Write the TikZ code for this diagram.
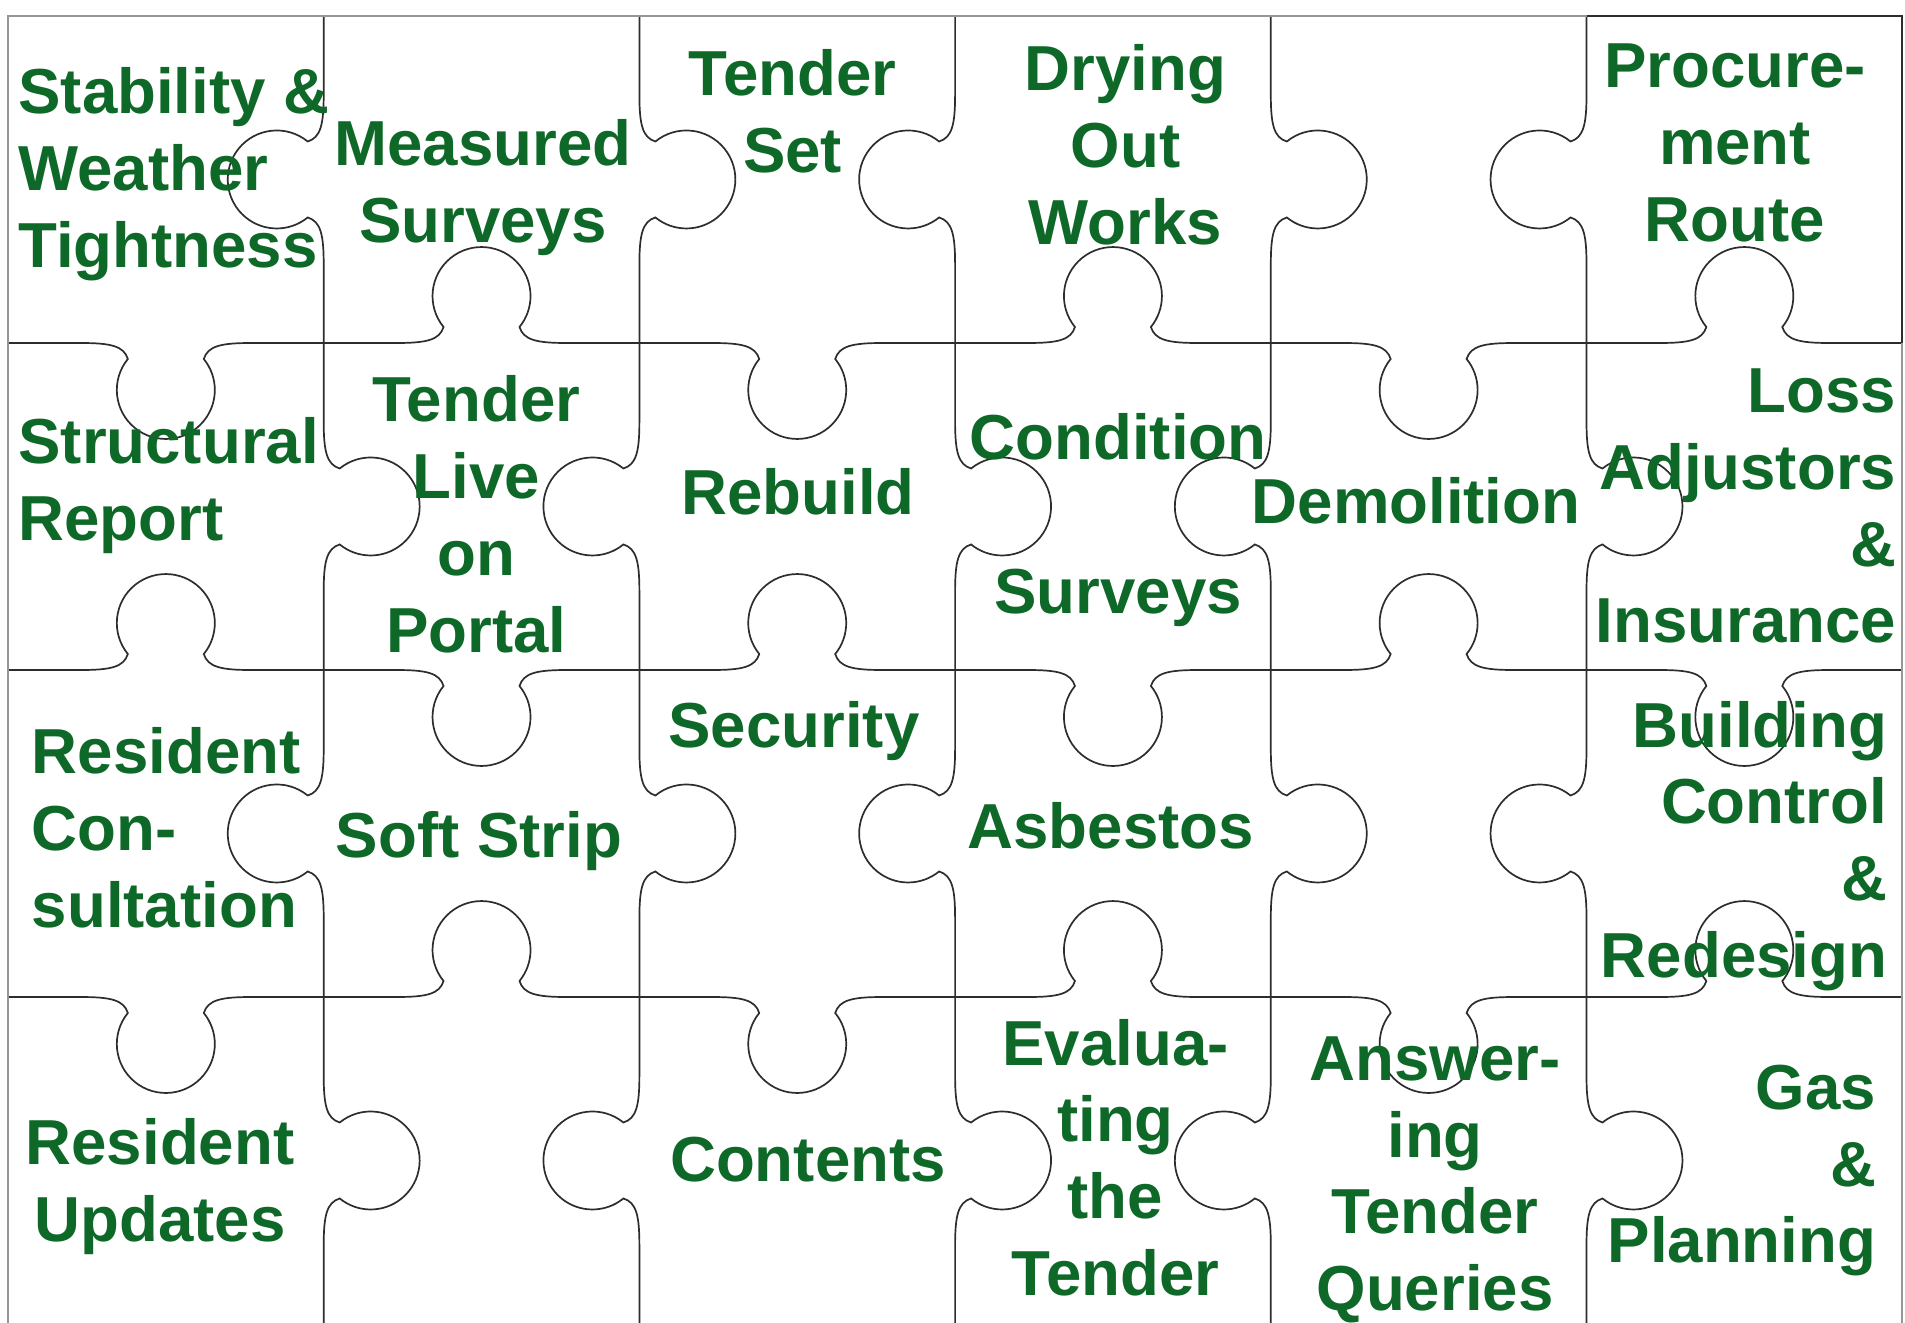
\documentclass[tikz,border=0pt]{standalone}
\usepackage{fontspec}
\setmainfont{Liberation Sans}
\definecolor{lblgreen}{RGB}{14,104,40}
\definecolor{edgecol}{RGB}{45,45,45}
\definecolor{bordergray}{RGB}{150,150,150}
\begin{document}
\begin{tikzpicture}[x=0.5pt,y=-0.5pt]
\tikzset{
  edge/.style={draw=edgecol, line width=0.85pt},
  lbl/.style={text=lblgreen, font=\fontsize{31.8}{38.35}\selectfont\bfseries, inner sep=0pt},
  lblc/.style={lbl, align=center, anchor=north},
  lbll/.style={lbl, align=left, anchor=north west},
  lblr/.style={lbl, align=right, anchor=north east}
}
\useasboundingbox (0,0) rectangle (1905,1322);
\fill[white] (0,0) rectangle (1905,1322);
\def\XO{8}\def\YO{16}\def\W{315.7}\def\H{327}
% horizontal edges
\foreach \e in {1,2,3}{
  \foreach \c in {0,...,5}{
    \pgfmathsetmacro\y{\YO+\e*\H}
    \pgfmathsetmacro\xa{\XO+\c*\W}
    \pgfmathsetmacro\xb{\xa+\W}
    \pgfmathsetmacro\m{\xa+\W/2}
    \pgfmathsetmacro\s{1-2*mod(\e+\c+1,2)}
    \draw[edge] (\xa,\y) -- ({\m-85},\y)
      .. controls ({\m-55},\y) and ({\m-42},{\y+3*\s}) .. ({\m-38},{\y+16*\s})
      arc[start angle={180+39.2*\s}, end angle={180-219.2*\s}, radius=49]
      .. controls ({\m+42},{\y+3*\s}) and ({\m+55},\y) .. ({\m+85},\y)
      -- (\xb,\y);
  }
}
% vertical edges
\foreach \e in {1,...,5}{
  \foreach \r in {0,...,3}{
    \pgfmathsetmacro\x{\XO+\e*\W}
    \pgfmathsetmacro\ya{\YO+\r*\H}
    \pgfmathsetmacro\yb{\ya+\H}
    \pgfmathsetmacro\m{\ya+\H/2}
    \pgfmathsetmacro\s{1-2*mod(\r+\e,2)}
    \draw[edge] (\x,\ya) -- (\x,{\m-85})
      .. controls (\x,{\m-55}) and ({\x+3*\s},{\m-42}) .. ({\x+16*\s},{\m-38})
      arc[start angle={-90-39.2*\s}, end angle={-90+219.2*\s}, radius=49]
      .. controls ({\x+3*\s},{\m+42}) and (\x,{\m+55}) .. (\x,{\m+85})
      -- (\x,\yb);
  }
}
% outer border
\draw[draw=bordergray, line width=0.9pt] (8,1324) -- (8,16) -- (1586.5,16);
\draw[edge] (1586.5,16) -- (1902.2,16) -- (1902.2,343);
\draw[draw=bordergray, line width=0.9pt] (1902.2,343) -- (1902.2,1324);
% labels
\node[lbll] (stab) at (18,67.5) {Stability \&\\Weather\\Tightness};
\node[lblc] (meas) at (483,119.5) {Measured\\Surveys};
\node[lblc] (tset) at (792.5,49.5) {Tender\\Set};
\node[lblc] (dry) at (1125.5,44.5) {Drying\\Out\\Works};
\node[lblc] (proc) at (1735,43.8) {Procure-\\ment\\Route};
\node[lbll] (struct) at (18,417.5) {Structural\\Report};
\node[lblc] (tlive) at (476.5,375.5) {Tender\\Live\\on\\Portal};
\node[lblc] (rebuild) at (798,468.5) {Rebuild};
\node[lblc] (cond) at (1118,413.5) {Condition\\[38.35pt]Surveys};
\node[lblc] (demo) at (1416,477.5) {Demolition};
\node[lblr] (loss) at (1896.5,368.5) {Loss\\Adjustors\\\&\\Insurance};
\node[lbll] (rcons) at (31.5,727.5) {Resident\\Con-\\sultation};
\node[lblc] (soft) at (479,811.5) {Soft Strip};
\node[lblc] (sec) at (794,701.5) {Security};
\node[lblc] (asb) at (1110.7,802) {Asbestos};
\node[lblr] (build) at (1887.5,700.8) {Building\\Control\\\&\\Redesign};
\node[lblc] (rupd) at (160,1117.8) {Resident\\Updates};
\node[lblc] (cont) at (808,1136.2) {Contents};
\node[lblc] (eval) at (1115.5,1018.5) {Evalua-\\ting\\the\\Tender};
\node[lblc] (answ) at (1435,1036.2) {Answer-\\ing\\Tender\\Queries};
\node[lblr] (gas) at (1876.5,1064.5) {Gas\\\&\\Planning};
\end{tikzpicture}
\end{document}
